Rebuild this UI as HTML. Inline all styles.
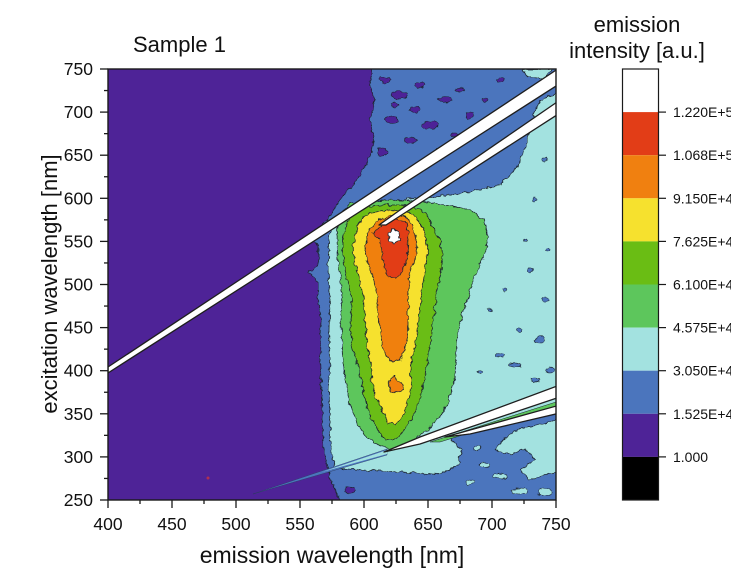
<!DOCTYPE html>
<html><head><meta charset="utf-8"><style>
html,body{margin:0;padding:0;background:#fff;}
svg{display:block;font-family:"Liberation Sans",Arial,sans-serif;}
</style></head><body>
<svg width="750" height="572" viewBox="0 0 750 572" xmlns="http://www.w3.org/2000/svg">
<defs>
<clipPath id="pc"><rect x="108" y="69" width="448" height="431"/></clipPath>
<clipPath id="lc"><rect x="660" y="90" width="71" height="400"/></clipPath>
<filter id="rough" x="0" y="0" width="750" height="572" filterUnits="userSpaceOnUse">
<feTurbulence type="fractalNoise" baseFrequency="0.18" numOctaves="2" seed="5" result="n"/>
<feDisplacementMap in="SourceGraphic" in2="n" scale="5" xChannelSelector="R" yChannelSelector="G"/>
</filter>
</defs>
<rect x="0" y="0" width="750" height="572" fill="#fff"/>

<g clip-path="url(#pc)">
  <rect x="108" y="69" width="448" height="431" fill="#4E2397"/>
  <g filter="url(#rough)" stroke="#1c2530" stroke-width="0.8" stroke-linejoin="round">
    <!-- blue -->
    <polygon fill="#4B75BD" points="372,60 570,60 570,515 340,515 340,500 335,490 330,478 326,462 323,440 322,400 320,360 321,320 318,300 318,282 308,272 318,266 318,245 312,240 330,216 340,200 355,182 368,162 374,140 370,120 375,100 370,85 372,69"/>
    <!-- purple blobs in blue -->
    <g fill="#4E2397" stroke-width="0.6">
      <ellipse cx="385" cy="80" rx="6" ry="3"/>
      <ellipse cx="400" cy="95" rx="8" ry="4"/>
      <ellipse cx="420" cy="85" rx="5" ry="3"/>
      <ellipse cx="445" cy="100" rx="7" ry="3"/>
      <ellipse cx="392" cy="120" rx="6" ry="4"/>
      <ellipse cx="430" cy="125" rx="9" ry="4"/>
      <ellipse cx="460" cy="90" rx="5" ry="2"/>
      <ellipse cx="410" cy="140" rx="6" ry="3"/>
      <ellipse cx="470" cy="115" rx="4" ry="3"/>
      <ellipse cx="382" cy="152" rx="5" ry="4"/>
      <ellipse cx="440" cy="150" rx="5" ry="2"/>
      <ellipse cx="395" cy="105" rx="4" ry="2"/>
      <ellipse cx="455" cy="135" rx="4" ry="2"/>
      <ellipse cx="415" cy="110" rx="5" ry="3"/>
      <ellipse cx="500" cy="80" rx="4" ry="2"/>
      <ellipse cx="485" cy="100" rx="3" ry="2"/>
      <ellipse cx="350" cy="490" rx="5" ry="3"/>
    </g>
    <!-- cyan -->
    <polygon fill="#A3E2E0" points="329,236 333,226 345,214 360,205 400,200 440,196 470,192 500,185 515,170 525,150 530,125 540,100 565,90 565,410 520,419 480,428 450,437 462,450 458,465 440,474 400,472 360,470 335,468 331,450 330,420 329,390 330,360 329,330 330,300 328,270 329,250"/>
    <polygon fill="#A3E2E0" points="522,69 552,69 545,79 528,77"/>
    <polygon fill="#A3E2E0" points="565,416 540,425 520,428 505,438 495,450 510,455 525,448 535,460 520,470 530,480 545,475 565,470"/>
    <g fill="#A3E2E0" stroke-width="0.6">
      <ellipse cx="500" cy="476" rx="7" ry="3"/>
      <ellipse cx="520" cy="491" rx="8" ry="3"/>
      <ellipse cx="545" cy="492" rx="7" ry="4"/>
      <ellipse cx="470" cy="482" rx="4" ry="2"/>
      <ellipse cx="485" cy="465" rx="5" ry="2.5"/>
      <ellipse cx="478" cy="448" rx="4" ry="2.5"/>
    </g>
    <!-- blue spots in cyan -->
    <g fill="#4B75BD" stroke-width="0.6">
      <ellipse cx="530" cy="270" rx="3" ry="2"/>
      <ellipse cx="545" cy="300" rx="4" ry="2"/>
      <ellipse cx="520" cy="330" rx="3" ry="2"/>
      <ellipse cx="500" cy="355" rx="4" ry="2"/>
      <ellipse cx="540" cy="340" rx="5" ry="3"/>
      <ellipse cx="515" cy="365" rx="6" ry="2"/>
      <ellipse cx="550" cy="370" rx="4" ry="3"/>
      <ellipse cx="490" cy="310" rx="2" ry="1.5"/>
      <ellipse cx="535" cy="380" rx="5" ry="2"/>
      <ellipse cx="505" cy="290" rx="2" ry="2"/>
      <ellipse cx="525" cy="240" rx="2" ry="1.5"/>
      <ellipse cx="548" cy="250" rx="2" ry="2"/>
      <ellipse cx="480" cy="372" rx="3" ry="1.5"/>
      <ellipse cx="545" cy="160" rx="3" ry="2"/>
      <ellipse cx="535" cy="200" rx="2" ry="1.5"/>
    </g>
    <!-- light green -->
    <polygon fill="#5DC65C" points="338,225 342,212 350,203 380,200 420,201 445,205 470,210 484,220 488,235 486,250 480,265 472,285 467,300 462,315 458,330 456,355 455,380 449,398 443,413 430,428 412,441 392,449 380,446 368,438 358,425 350,405 345,380 342,350 341,320 342,290 338,260 337,240"/>
    <!-- green -->
    <polygon fill="#6ABD14" points="343,240 347,222 355,210 380,205 410,205 425,212 432,225 440,240 443,255 440,275 436,295 433,320 430,345 426,370 422,390 416,410 406,428 394,440 386,440 378,430 370,415 364,395 360,375 352,345 350,320 352,300 346,275 343,255"/>
    <!-- yellow -->
    <polygon fill="#F6E12E" points="353,245 358,225 368,213 390,210 410,212 420,222 425,235 428,250 425,270 422,290 420,310 417,335 413,355 410,368 412,385 408,402 402,417 396,424 388,423 383,412 376,398 372,383 371,365 367,345 365,320 363,295 358,275 354,260"/>
    <!-- orange -->
    <polygon fill="#F08010" points="365,250 368,232 378,220 392,215 405,216 412,225 416,240 417,255 410,270 409,290 408,310 408,335 405,350 400,360 392,362 385,355 381,340 378,315 377,295 372,275 367,262"/>
    <polygon fill="#F08010" points="388,381 394,376 401,383 403,390 396,393 390,390"/>
    <!-- red -->
    <polygon fill="#E23D17" points="380,240 372,233 383,225 395,219 405,221 409,232 408,248 406,262 402,272 396,278 389,277 385,268 382,255"/>
    <!-- white peak -->
    <polygon fill="#ffffff" points="388,233 393,229 399,233 400,240 394,244 389,241"/>
  </g>
  <!-- red dot -->
  <circle cx="208" cy="478" r="1.5" fill="#b03050"/>
  <!-- spike -->
  <polygon fill="#4B75BD" stroke="#2a3a5a" stroke-width="0.4" points="253,494 387,449 387,455"/>
  <polygon fill="#A3E2E0" points="322,472 387,450 387,454"/>
  <!-- green sliver -->
  <polygon fill="#5DC65C" stroke="#1c2530" stroke-width="0.5" points="430,442 556,402 556,406 440,442"/>
  <!-- bands -->
  <g fill="#ffffff" stroke="#1e1e1e" stroke-width="1.3" stroke-linejoin="round">
    <polygon points="108,367 560,67.5 560,83.5 108,373"/>
    <polygon points="379,225 400,210 560,100 560,113 400,216 386,225"/>
    <polygon points="384,452 420,437 560,385 560,397 420,444"/>
    <polygon points="445,437 560,405 560,413 470,434"/>
  </g>
</g>

<!-- frame -->
<rect x="108" y="69" width="448" height="431" fill="none" stroke="#1a1a1a" stroke-width="1.4"/>

<!-- y ticks -->
<g stroke="#1a1a1a" stroke-width="1.3">
  <line x1="100" y1="69" x2="108" y2="69"/>
  <line x1="100" y1="112.1" x2="108" y2="112.1"/>
  <line x1="100" y1="155.2" x2="108" y2="155.2"/>
  <line x1="100" y1="198.3" x2="108" y2="198.3"/>
  <line x1="100" y1="241.4" x2="108" y2="241.4"/>
  <line x1="100" y1="284.5" x2="108" y2="284.5"/>
  <line x1="100" y1="327.6" x2="108" y2="327.6"/>
  <line x1="100" y1="370.7" x2="108" y2="370.7"/>
  <line x1="100" y1="413.8" x2="108" y2="413.8"/>
  <line x1="100" y1="456.9" x2="108" y2="456.9"/>
  <line x1="100" y1="500" x2="108" y2="500"/>
  <line x1="104" y1="90.55" x2="108" y2="90.55"/>
  <line x1="104" y1="133.65" x2="108" y2="133.65"/>
  <line x1="104" y1="176.75" x2="108" y2="176.75"/>
  <line x1="104" y1="219.85" x2="108" y2="219.85"/>
  <line x1="104" y1="262.95" x2="108" y2="262.95"/>
  <line x1="104" y1="306.05" x2="108" y2="306.05"/>
  <line x1="104" y1="349.15" x2="108" y2="349.15"/>
  <line x1="104" y1="392.25" x2="108" y2="392.25"/>
  <line x1="104" y1="435.35" x2="108" y2="435.35"/>
  <line x1="104" y1="478.45" x2="108" y2="478.45"/>
  <!-- x ticks -->
  <line x1="108" y1="500" x2="108" y2="508"/>
  <line x1="172" y1="500" x2="172" y2="508"/>
  <line x1="236" y1="500" x2="236" y2="508"/>
  <line x1="300" y1="500" x2="300" y2="508"/>
  <line x1="364" y1="500" x2="364" y2="508"/>
  <line x1="428" y1="500" x2="428" y2="508"/>
  <line x1="492" y1="500" x2="492" y2="508"/>
  <line x1="556" y1="500" x2="556" y2="508"/>
  <line x1="140" y1="500" x2="140" y2="504"/>
  <line x1="204" y1="500" x2="204" y2="504"/>
  <line x1="268" y1="500" x2="268" y2="504"/>
  <line x1="332" y1="500" x2="332" y2="504"/>
  <line x1="396" y1="500" x2="396" y2="504"/>
  <line x1="460" y1="500" x2="460" y2="504"/>
  <line x1="524" y1="500" x2="524" y2="504"/>
</g>

<!-- y tick labels -->
<g font-size="17.5" fill="#111" text-anchor="end">
  <text x="93" y="75">750</text>
  <text x="93" y="118.1">700</text>
  <text x="93" y="161.2">650</text>
  <text x="93" y="204.3">600</text>
  <text x="93" y="247.4">550</text>
  <text x="93" y="290.5">500</text>
  <text x="93" y="333.6">450</text>
  <text x="93" y="376.7">400</text>
  <text x="93" y="419.8">350</text>
  <text x="93" y="462.9">300</text>
  <text x="93" y="506">250</text>
</g>
<!-- x tick labels -->
<g font-size="17.5" fill="#111" text-anchor="middle">
  <text x="108" y="530">400</text>
  <text x="172" y="530">450</text>
  <text x="236" y="530">500</text>
  <text x="300" y="530">550</text>
  <text x="364" y="530">600</text>
  <text x="428" y="530">650</text>
  <text x="492" y="530">700</text>
  <text x="556" y="530">750</text>
</g>

<!-- axis titles -->
<text x="332" y="563" font-size="23" fill="#111" text-anchor="middle">emission wavelength [nm]</text>
<text transform="translate(57,284) rotate(-90)" font-size="22" fill="#111" text-anchor="middle">excitation wavelength [nm]</text>
<text x="133" y="52" font-size="22" fill="#111">Sample 1</text>

<!-- colorbar -->
<g>
  <rect x="622.5" y="69" width="36" height="43.1" fill="#ffffff"/>
  <rect x="622.5" y="112.1" width="36" height="43.1" fill="#E23D17"/>
  <rect x="622.5" y="155.2" width="36" height="43.1" fill="#F08010"/>
  <rect x="622.5" y="198.3" width="36" height="43.1" fill="#F6E12E"/>
  <rect x="622.5" y="241.4" width="36" height="43.1" fill="#6ABD14"/>
  <rect x="622.5" y="284.5" width="36" height="43.1" fill="#5DC65C"/>
  <rect x="622.5" y="327.6" width="36" height="43.1" fill="#A3E2E0"/>
  <rect x="622.5" y="370.7" width="36" height="43.1" fill="#4B75BD"/>
  <rect x="622.5" y="413.8" width="36" height="43.1" fill="#4E2397"/>
  <rect x="622.5" y="456.9" width="36" height="43.1" fill="#000000"/>
  <rect x="622.5" y="69" width="36" height="431" fill="none" stroke="#1a1a1a" stroke-width="1.2"/>
  <g stroke="#1a1a1a" stroke-width="1.2">
    <line x1="658.5" y1="112.1" x2="666" y2="112.1"/>
    <line x1="658.5" y1="155.2" x2="666" y2="155.2"/>
    <line x1="658.5" y1="198.3" x2="666" y2="198.3"/>
    <line x1="658.5" y1="241.4" x2="666" y2="241.4"/>
    <line x1="658.5" y1="284.5" x2="666" y2="284.5"/>
    <line x1="658.5" y1="327.6" x2="666" y2="327.6"/>
    <line x1="658.5" y1="370.7" x2="666" y2="370.7"/>
    <line x1="658.5" y1="413.8" x2="666" y2="413.8"/>
    <line x1="658.5" y1="456.9" x2="666" y2="456.9"/>
  </g>
  <g font-size="14" fill="#111" clip-path="url(#lc)">
    <text x="673" y="117.1">1.220E+5</text>
    <text x="673" y="160.2">1.068E+5</text>
    <text x="673" y="203.3">9.150E+4</text>
    <text x="673" y="246.4">7.625E+4</text>
    <text x="673" y="289.5">6.100E+4</text>
    <text x="673" y="332.6">4.575E+4</text>
    <text x="673" y="375.7">3.050E+4</text>
    <text x="673" y="418.8">1.525E+4</text>
    <text x="673" y="461.9">1.000</text>
  </g>
  <text x="637" y="32" font-size="22" fill="#111" text-anchor="middle">emission</text>
  <text x="637" y="58" font-size="22" fill="#111" text-anchor="middle">intensity [a.u.]</text>
</g>
</svg>
</body></html>
